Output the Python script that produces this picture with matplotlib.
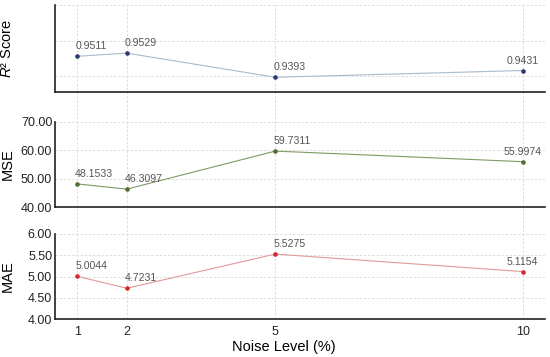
import numpy as np
import matplotlib
matplotlib.use('Agg')
from matplotlib import pyplot as plt

plt.rcParams['font.family'] = ['Liberation Sans', 'DejaVu Sans']
plt.rcParams['mathtext.fontset'] = 'custom'
plt.rcParams['mathtext.rm'] = 'Liberation Sans'
plt.rcParams['mathtext.it'] = 'Liberation Sans:italic'

noise_levels = [1, 2, 5, 10]
r2_scores = [0.9511, 0.9529, 0.9393, 0.9431]
mse_values = [48.1533, 46.3097, 59.7311, 55.9974]
mae_values = [5.0044, 4.7231, 5.5275, 5.1154]

r2_ticks = [0.94, 0.96, 0.98]
mse_ticks = [40, 50, 60, 70]
mae_ticks = [4.0, 4.5, 5.0, 5.5, 6.0]

fig = plt.figure(figsize=(5.5, 3.57), dpi=100)
W, H = 550.0, 357.0
left, right = 55 / W, 545 / W

def box(top, bottom):
    return [left, 1 - bottom / H, right - left, (bottom - top) / H]

xlim = (0.55, 10.45)
grid_kw = dict(color='#d9d9d9', linestyle=(0, (3, 2)), linewidth=0.6)

# vertical grid running through the gaps between panels
bg = fig.add_axes(box(5, 319), zorder=0)
bg.set_xlim(*xlim)
bg.set_ylim(0, 1)
bg.axis('off')
for x in noise_levels:
    bg.axvline(x, **grid_kw)

panels = [
    (box(5, 92), r2_scores, r2_ticks, (0.931, 0.98), '$R$² Score', '#a9bacb', '#2a3a6e'),
    (box(122, 207), mse_values, mse_ticks, (40, 70), 'MSE', '#7f9a62', '#4f6e33'),
    (box(234, 319), mae_values, mae_ticks, (4.0, 6.0), 'MAE', '#e3999c', '#d42a2a'),
]

axes = []
for i, (pos, vals, ticks, ylim, label, lc, mc) in enumerate(panels):
    ax = fig.add_axes(pos, zorder=1)
    ax.patch.set_alpha(0)
    ax.set_xlim(*xlim)
    ax.set_ylim(*ylim)
    ax.set_yticks(ticks)
    for t in ticks:
        ax.axhline(t, zorder=0, **grid_kw)
    ax.plot(noise_levels, vals, color=lc, linewidth=0.8, zorder=2)
    ax.plot(noise_levels, vals, 'o', color=mc, markersize=2.3, zorder=3)
    for j, (x, v) in enumerate(zip(noise_levels, vals)):
        if j == len(vals) - 1:
            ax.annotate('{:.4f}'.format(v), (x, v), xytext=(0, 3.5), textcoords='offset points',
                        ha='center', va='bottom', fontsize=7.6, color='#555555')
        else:
            ax.annotate('{:.4f}'.format(v), (x, v), xytext=(-1.5, 3.5), textcoords='offset points',
                        ha='left', va='bottom', fontsize=7.6, color='#555555')
    for s in ['top', 'right']:
        ax.spines[s].set_visible(False)
    for s in ['left', 'bottom']:
        ax.spines[s].set_linewidth(1.2)
        ax.spines[s].set_color('#222222')
    ax.tick_params(axis='both', length=0, labelsize=9, colors='#222222')
    ax.tick_params(axis='y', pad=2)
    ax.tick_params(axis='x', pad=5)
    if i == 0:
        ax.set_yticklabels([])
    else:
        ax.set_yticklabels(['{:.2f}'.format(t) for t in ticks])
    ax.set_ylabel(label, fontsize=10.5)
    ax.yaxis.set_label_coords(-0.083, 0.5)
    ax.set_xticks(noise_levels)
    if i < 2:
        ax.set_xticklabels([])
    axes.append(ax)

axes[-1].set_xticklabels([str(x) for x in noise_levels])
axes[-1].set_xlabel('Noise Level (%)', fontsize=10.5)
axes[-1].xaxis.set_label_coords(0.467, -0.245)

plt.savefig('out.png', dpi=100)
